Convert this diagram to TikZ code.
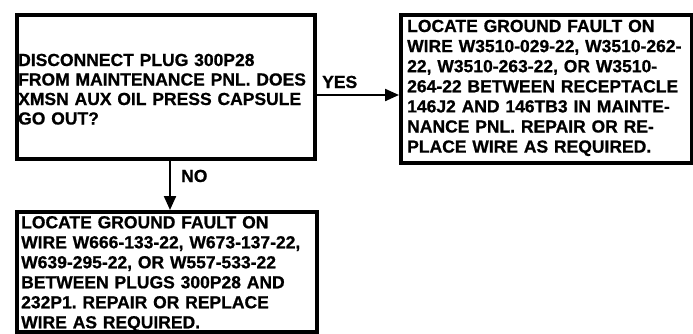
\documentclass[tikz,border=0pt]{standalone}
\usepackage{fontspec}
\setmainfont[BoldFeatures={FakeBold=0.8}]{Liberation Sans}
\usetikzlibrary{arrows.meta}
\frenchspacing
\tikzset{
  box/.style={draw=black, line width=3.6pt, inner sep=0pt, anchor=north west},
  txt/.style={font=\bfseries\fontsize{17.5}{19.5}\selectfont, inner sep=0pt, anchor=base west, text width=340pt, align=left},
  lbl/.style={font=\bfseries\fontsize{17.5}{19.5}\selectfont, inner sep=0pt, anchor=base west},
  arr/.style={line width=2.2pt, -{Triangle[length=14pt,width=12pt]}}
}
\begin{document}
\begin{tikzpicture}[x=1pt,y=-1pt]
\useasboundingbox (0,0) rectangle (693,333);
\node[box, minimum width=298pt, minimum height=144pt] (q) at (15,13) {};
\node[box, minimum width=291pt, minimum height=148pt] (a) at (399,13) {};
\node[box, minimum width=300pt, minimum height=120pt] (b) at (15,210) {};
\node[txt] (qt) at (18,66) {DISCONNECT PLUG 300P28\\FROM MAINTENANCE PNL. DOES\\XMSN AUX OIL PRESS CAPSULE\\GO OUT?};
\node[txt, font=\bfseries\fontsize{17.5}{20.1}\selectfont] (at) at (407,32) {LOCATE GROUND FAULT ON\\WIRE W3510-029-22, W3510-262-\\22, W3510-263-22, OR W3510-\\264-22 BETWEEN RECEPTACLE\\146J2 AND 146TB3 IN MAINTE-\\NANCE PNL. REPAIR OR RE-\\PLACE WIRE AS REQUIRED.};
\node[txt, font=\bfseries\fontsize{17.5}{20}\selectfont] (bt) at (21,228.3) {LOCATE GROUND FAULT ON\\WIRE W666-133-22, W673-137-22,\\W639-295-22, OR W557-533-22\\BETWEEN PLUGS 300P28 AND\\232P1. REPAIR OR REPLACE\\WIRE AS REQUIRED.};
\draw[arr] (q.east |- 0,95) -- (a.west |- 0,95);
\draw[arr] (q.south -| 170,0) -- (b.north -| 170,0);
\node[lbl] (yes) at (322,88) {YES};
\node[lbl] (no) at (181,182) {NO};
\end{tikzpicture}
\end{document}
